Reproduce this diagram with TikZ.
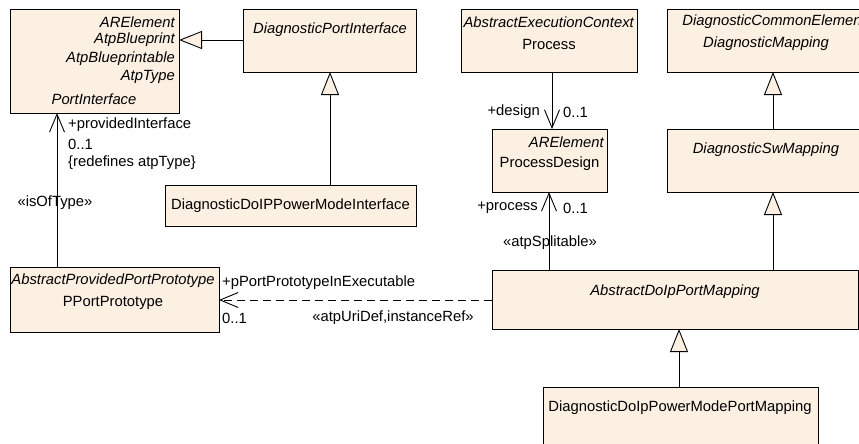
\documentclass[tikz,border=0pt]{standalone}
\usepackage{fontspec}
\setmainfont{Liberation Sans}
\usetikzlibrary{arrows.meta}
\definecolor{boxfill}{RGB}{251,240,226}
\begin{document}
\begin{tikzpicture}[x=1pt,y=-1pt,
  every node/.style={font=\fontsize{14.8}{17}\selectfont, inner sep=0pt},
  umlbox/.style={draw=black, line width=0.9pt, fill=boxfill, anchor=north west, rectangle},
  lbl/.style={font=\fontsize{14.8}{17}\selectfont},
  itl/.style={font=\fontsize{14.8}{17}\selectfont\itshape},
  gen/.style={line width=0.9pt, -{Triangle[open, length=23pt, width=18pt, fill=boxfill]}},
  assoc/.style={line width=0.9pt, -{Straight Barb[length=18pt, width=15pt, line width=0.9pt]}},
  dep/.style={line width=0.9pt, dash pattern=on 8pt off 5pt, -{Straight Barb[length=18pt, width=15pt, line width=0.9pt]}}
]
\useasboundingbox (0,0) rectangle (859,444);
\begin{scope}
\clip (0,0) rectangle (859,444);
% boxes
\node[umlbox, minimum width=169pt, minimum height=104pt] (pi) at (10,9) {};
\node[umlbox, minimum width=173pt, minimum height=63pt] (dpi) at (243,9) {};
\node[umlbox, minimum width=251pt, minimum height=41pt] (dpmi) at (165,185) {};
\node[umlbox, minimum width=176pt, minimum height=63pt] (proc) at (461,9) {};
\node[umlbox, minimum width=115pt, minimum height=63pt] (pd) at (492,129) {};
\node[umlbox, minimum width=198pt, minimum height=63pt] (dm) at (667,9) {};
\node[umlbox, minimum width=198pt, minimum height=63pt] (dsm) at (667,129) {};
\node[umlbox, minimum width=366pt, minimum height=59pt] (adpm) at (492,270) {};
\node[umlbox, minimum width=275pt, minimum height=80pt] (ddppm) at (543,387) {};
\node[umlbox, minimum width=209pt, minimum height=65pt] (ppp) at (10,267) {};
\end{scope}

% box texts
\node[itl, anchor=east] (pi1) at (175,22) {ARElement};
\node[itl, anchor=east] (pi2) at (175,40) {AtpBlueprint};
\node[itl, anchor=east] (pi3) at (175,59) {AtpBlueprintable};
\node[itl, anchor=east] (pi4) at (175,77) {AtpType};
\node[itl] (pin) at (94,99) {PortInterface};

\node[itl] (dpin) at (330,30) {DiagnosticPortInterface};
\node[lbl] (dpmin) at (290.5,206) {DiagnosticDoIPPowerModeInterface};

\node[itl, anchor=east] (proc1) at (634,22) {AbstractExecutionContext};
\node[lbl] (procn) at (549,44) {Process};

\node[itl, anchor=east] (pd1) at (604,142) {ARElement};
\node[lbl] (pdn) at (549.5,164) {ProcessDesign};

\begin{scope}
\clip (0,0) rectangle (859,444);
\node[itl, anchor=east] (dm1) at (866,22) {DiagnosticCommonElement};
\end{scope}
\node[itl] (dmn) at (766,44) {DiagnosticMapping};
\node[itl] (dsmn) at (766,150) {DiagnosticSwMapping};
\node[itl] (adpmn) at (675,292) {AbstractDoIpPortMapping};
\node[lbl] (ddppmn) at (680,408) {DiagnosticDoIpPowerModePortMapping};

\node[itl] (ppp1) at (113,281) {AbstractProvidedPortPrototype};
\node[lbl] (pppn) at (113,303) {PPortPrototype};

% connector anchor coordinates
\coordinate (dpiW) at (243,40);
\coordinate (piE) at (179,40);
\coordinate (dpmiN) at (330,185);
\coordinate (dpiS) at (330,72);
\coordinate (dsmN) at (773,129);
\coordinate (dmS) at (773,72);
\coordinate (adpmNr) at (773,270);
\coordinate (dsmS) at (773,192);
\coordinate (ddppmN) at (679,387);
\coordinate (adpmS) at (679,329);
\coordinate (procS) at (552,72);
\coordinate (pdN) at (552,129);
\coordinate (adpmNl) at (549,270);
\coordinate (pdS) at (549,192);
\coordinate (pppN) at (57,267);
\coordinate (piS) at (57,113);
\coordinate (adpmW) at (492,300);
\coordinate (pppE) at (219,300);

% generalizations
\draw[gen] (dpiW) -- (piE);
\draw[gen] (dpmiN) -- (dpiS);
\draw[gen] (dsmN) -- (dmS);
\draw[gen] (adpmNr) -- (dsmS);
\draw[gen] (ddppmN) -- (adpmS);

% associations
\draw[assoc] (procS) -- (pdN);
\draw[assoc] (adpmNl) -- (pdS);
\draw[assoc] (pppN) -- (piS);
\draw[dep] (adpmW) -- (pppE);

% labels
\node[lbl, anchor=west] (l1) at (68,125) {+providedInterface};
\node[lbl, anchor=west] (l2) at (68,144) {0..1};
\node[lbl, anchor=west] (l3) at (68,163) {\{redefines atpType\}};
\node[lbl] (l4) at (55,203) {«isOfType»};

\node[lbl, anchor=east] (l5) at (540,112) {+design};
\node[lbl, anchor=west] (l6) at (563,112) {0..1};
\node[lbl, anchor=east] (l7) at (538,208) {+process};
\node[lbl, anchor=west] (l8) at (563,208) {0..1};
\node[lbl] (l9) at (550,243) {«atpSplitable»};

\node[lbl, anchor=west] (l10) at (222,283) {+pPortPrototypeInExecutable};
\node[lbl, anchor=west] (l11) at (222,318) {0..1};
\node[lbl] (l12) at (393,318) {«atpUriDef,instanceRef»};
\end{tikzpicture}
\end{document}
